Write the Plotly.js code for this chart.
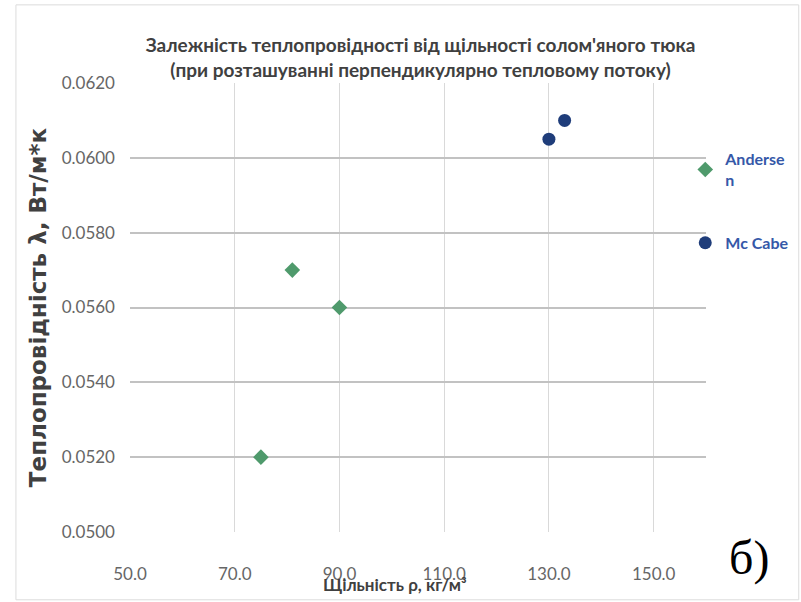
<!DOCTYPE html>
<html>
<head>
<meta charset="utf-8">
<script src="https://cdn.plot.ly/plotly-3.0.1.min.js"></script>
<style>html,body{margin:0;padding:0;background:#fff;}#chart{width:801px;height:602px;}</style>
</head>
<body>
<div id="chart"></div>
<script>
// Data
const andersenDensity = [75, 81, 90];
const andersenLambda = [0.0520, 0.0570, 0.0560];
const mccabeDensity = [130, 133];
const mccabeLambda = [0.0605, 0.0610];
const seriesNames = ["Anderse<br>n", "Mc Cabe"];
const xTicks = [50, 70, 90, 110, 130, 150];
const xTickLabels = ["50.0", "70.0", "90.0", "110.0", "130.0", "150.0"];
const yTicks = [0.050, 0.052, 0.054, 0.056, 0.058, 0.060, 0.062];
const yTickLabels = ["0.0500", "0.0520", "0.0540", "0.0560", "0.0580", "0.0600", "0.0620"];
const titleLine1 = "Залежність теплопровідності від щільності солом'яного тюка";
const titleLine2 = "(при розташуванні перпендикулярно тепловому потоку)";
const xTitle = "Щільність ρ, кг/м³";
const yTitle = "Теплопровідність λ, Вт/м*к";
const panelLabel = "б)";

const narrow = "Lato, Roboto, sans-serif";

const traces = [
  {
    type: "scatter", mode: "markers", name: seriesNames[0],
    x: andersenDensity, y: andersenLambda,
    legendgroup: "a",
    marker: {symbol: "diamond", size: 12, color: "#4f9a6c"}
  },
  {
    type: "scatter", mode: "markers", name: seriesNames[1],
    x: mccabeDensity, y: mccabeLambda,
    legendgroup: "b",
    marker: {symbol: "circle", size: 13, color: "#1f3d7a"}
  }
];

const layout = {
  width: 801, height: 602,
  margin: {l: 130, r: 95, t: 83, b: 70, autoexpand: false},
  paper_bgcolor: "#ffffff", plot_bgcolor: "#ffffff",
  title: {
    text: "<b>" + titleLine1 + "</b><br><b>" + titleLine2 + "</b>",
    font: {family: narrow, size: 19, color: "#404040"},
    x: 0.525, xanchor: "center", xref: "container",
    y: 0.913, yanchor: "middle", yref: "container"
  },
  xaxis: {
    range: [50, 160],
    tickvals: xTicks, ticktext: xTickLabels,
    showgrid: true, gridcolor: "#d9d9d9", gridwidth: 1,
    zeroline: false, showline: false, ticks: "",
    ticklabelstandoff: 30,
    tickfont: {family: narrow, size: 17, color: "#666666"}
  },
  yaxis: {
    range: [0.050, 0.062],
    tickvals: yTicks, ticktext: yTickLabels,
    showgrid: true, gridcolor: "#c2c2c2", gridwidth: 2,
    zeroline: false, showline: false, ticks: "",
    ticklabelstandoff: 14,
    tickfont: {family: narrow, size: 17, color: "#666666"},
    title: {
      text: "<b>" + yTitle + "</b>",
      font: {family: "DejaVu Sans, sans-serif", size: 23, color: "#404040"},
      standoff: 8
    },
    automargin: false
  },
  showlegend: true,
  legend: {
    x: 0.964, xanchor: "left", y: 0.868, yanchor: "top",
    bgcolor: "rgba(0,0,0,0)",
    traceorder: "grouped", tracegroupgap: 39,
    font: {family: narrow, size: 16, color: "#3558a8", weight: "bold"}
  },
  annotations: [
    {
      text: "<b>" + xTitle + "</b>",
      xref: "paper", yref: "paper", x: 0.46, y: -0.118,
      xanchor: "center", yanchor: "middle", showarrow: false,
      font: {family: narrow, size: 17, color: "#404040"}
    },
    {
      text: panelLabel,
      xref: "paper", yref: "paper", x: 1.075, y: -0.058,
      xanchor: "center", yanchor: "middle", showarrow: false,
      font: {family: "Liberation Serif, Times New Roman, serif", size: 48, color: "#000000"}
    }
  ],
  shapes: [
    {
      type: "rect", xref: "paper", yref: "paper",
      x0: -0.198, x1: 1.161, y0: -0.151, y1: 1.174,
      line: {color: "#dcdcdc", width: 1}, fillcolor: "rgba(0,0,0,0)", layer: "below"
    }
  ]
};

Plotly.newPlot("chart", traces, layout, {displayModeBar: false, staticPlot: true});
</script>
</body>
</html>
